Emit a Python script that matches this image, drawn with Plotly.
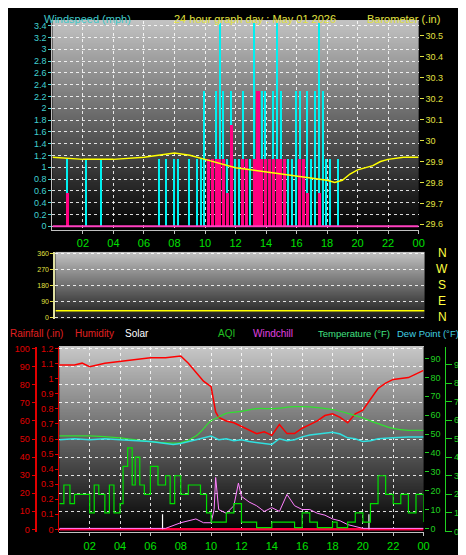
import plotly.graph_objects as go
import zlib, struct, base64

W, H = 466, 555
FONT = "Liberation Sans"

# ---------------- data ----------------
wind_hours = [i * 0.25 for i in range(97)]
gust = [0,0,0,0, 1.15,0,0,0, 0,1.15,0,0, 0,1.15,0,0, 0,0,0,0, 0,0,0,0, 0,0,0,0,
        1.15,0,1.15,0, 1.15,1.15,0,0, 1.15,0,1.15,1.15, 2.3,1.15,1.15,2.3,
        3.45,2.3,1.15,2.3, 1.15,1.15,2.3,1.15, 1.15,3.45,2.3,2.3, 2.3,1.15,2.3,3.45,
        2.3,1.15,1.15,1.15, 2.3,2.3,1.15,2.3, 1.15,2.3,3.45,2.3, 1.15,1.15,0,1.15,
        0,0,0,0, 0,0,0,0, 0,0,0,0, 0,0,0,0, 0]
speed = [0,0,0,0, 0.57,0,0,0, 0,0,0,0, 0,0,0,0, 0,0,0,0, 0,0,0,0, 0,0,0,0,
         0,0,0,0, 0,0,0,0, 0,0,0,0, 0,1.15,1.15,1.15,
         1.15,1.15,0.57,1.72, 0,0,1.15,1.15, 0,1.15,2.3,1.15, 1.15,1.15,1.15,1.15,
         1.15,1.15,0,0, 0,1.15,1.15,0.57, 0,0,0.57,0, 0,0,0,0,
         0,0,0,0, 0,0,0,0, 0,0,0,0, 0,0,0,0, 0]
baro_hours = [0, 2, 4, 6, 8, 9, 10, 10.5, 11, 12, 13, 14, 15, 16, 17, 18, 18.5, 19, 19.5, 20, 21, 21.5, 22, 23, 24]
baro = [29.92, 29.91, 29.91, 29.92, 29.94, 29.93, 29.91, 29.90, 29.89, 29.87, 29.86, 29.85,
        29.84, 29.83, 29.82, 29.81, 29.80, 29.81, 29.84, 29.86, 29.88, 29.90, 29.91, 29.92, 29.92]
dir_hours = [0, 24]
direction = [36, 36]

hum_hours = [0, 1, 1.5, 2, 3, 4, 5, 6, 7, 8, 8.5, 9, 9.5, 10, 10.3, 10.5, 11, 11.5, 12, 12.5, 13, 13.5,
             14, 14.5, 15, 15.5, 16, 16.5, 17, 17.5, 18, 18.5, 19, 19.5, 20, 20.5, 21, 21.5, 22, 23, 23.5, 24]
humidity = [91, 91, 92, 90, 92, 93, 94, 95, 95, 96, 92, 87, 82, 79, 65, 62, 60, 59, 57, 55, 53, 54,
            52, 58, 53, 53, 56, 58, 60, 63, 64, 62, 59, 64, 66, 72, 78, 81, 83, 84, 86, 88]
temp_hours = [0, 2, 4, 6, 8, 9, 10, 10.5, 11, 12, 13, 14, 15.5, 16, 17, 18, 19, 20, 21, 22, 23, 24]
temp = [49, 49, 48, 46, 45.5, 49, 57, 59, 61, 62, 63.5, 63.5, 64.5, 64.5, 64, 63, 61, 58.5, 55.5, 53, 52, 52]
dew_hours = [0, 1, 2, 3, 4, 5, 6, 7, 7.5, 8, 8.5, 9, 9.5, 10, 10.5, 11, 11.5, 12, 12.5, 13, 13.5, 14,
             14.5, 15, 15.5, 16, 16.5, 17, 17.5, 18, 18.5, 19, 19.5, 20, 20.5, 21, 22, 23, 24]
dew = [47, 47.5, 47, 47.5, 47, 46.5, 46, 45, 44.5, 45, 46, 47, 48, 49, 47, 47.5, 46.5, 47, 46, 45.5, 45, 44.5,
       47.5, 46.5, 47, 48.5, 49.5, 50, 50.5, 51, 50, 48, 47.5, 46, 46.5, 47.5, 48, 48.5, 48.5]
aqi_hours = [0, 0.3, 0.7, 1, 2, 2.3, 2.6, 3, 3.3, 3.6, 4, 4.2, 4.5, 4.8, 5, 5.3, 5.6, 6, 6.5, 7, 7.3, 7.6,
             8, 8.5, 9, 9.3, 9.7, 10, 10.5, 11, 11.5, 12, 13, 14, 15, 15.5, 16, 16.5, 17, 18, 18.3, 19,
             19.5, 20, 20.5, 21, 21.5, 22, 22.5, 23, 23.5, 24]
aqi = [15, 25, 15, 20, 10, 25, 20, 10, 25, 10, 15, 35, 45, 25, 40, 25, 20, 35, 25, 30, 15, 30,
       20, 25, 25, 20, 10, 5, 5, 10, 15, 5, 2, 5, 5, 2, 10, 5, 2, 5, 2, 5,
       10, 5, 15, 30, 20, 15, 20, 10, 20, 5]
chill_hours = [0, 7, 8, 8.5, 9, 9.5, 10, 10.2, 10.3, 10.5, 11, 11.5, 11.8, 12, 12.5, 13, 13.5, 14, 14.5,
               15, 15.5, 16, 16.5, 17, 17.5, 18, 18.5, 19, 19.5, 20, 24]
windchill = [0, 0, 3, 4, 5, 3, 3, 10, 27, 10, 8, 12, 24, 17, 14, 12, 9, 11, 9, 18, 12, 10, 10, 8, 7, 5, 4, 2, 1, 0, 0]
rain_hours = [0, 24]
rain = [0, 0]
solar_marks = [6.8, 20.4]

# ---------------- gradient image ----------------
def gradient_png(top, bot, n=256):
    raw = b""
    for i in range(n):
        v = int(top + (bot - top) * i / (n - 1))
        raw += b"\x00" + bytes([v, v])
    def chunk(t, d):
        c = struct.pack(">I", len(d)) + t + d
        return c + struct.pack(">I", zlib.crc32(t + d) & 0xffffffff)
    png = b"\x89PNG\r\n\x1a\n" + chunk(b"IHDR", struct.pack(">IIBBBBB", 2, n, 8, 0, 0, 0, 0))
    png += chunk(b"IDAT", zlib.compress(raw)) + chunk(b"IEND", b"")
    return "data:image/png;base64," + base64.b64encode(png).decode()

# ---------------- layout geometry ----------------
def fx(px): return px / W
def fy(py): return 1 - py / H

D1x, D1y = [fx(45), fx(416)], [fy(222), fy(10)]
D2x, D2y = [fx(48), fx(422)], [fy(312), fy(244)]
D3x, D3y = [fx(52), fx(421)], [fy(528), fy(340)]

fig = go.Figure()

fig.add_trace(go.Bar(x=wind_hours, y=gust, width=0.09, marker=dict(color="#00f0f0", line=dict(width=0)),
                     xaxis="x", yaxis="y"))
fig.add_trace(go.Bar(x=wind_hours, y=speed, width=0.2, marker=dict(color="#ff0080", line=dict(width=0)),
                     xaxis="x", yaxis="y"))
fig.add_trace(go.Scatter(x=[0, 24], y=[0, 0], mode="lines", line=dict(color="#ff40c0", width=2),
                         xaxis="x", yaxis="y"))
fig.add_trace(go.Scatter(x=baro_hours, y=baro, mode="lines", line=dict(color="#ffff00", width=1.5),
                         xaxis="x", yaxis="y2"))
fig.add_trace(go.Scatter(x=dir_hours, y=direction, mode="lines", line=dict(color="#ffff00", width=1.5),
                         xaxis="x2", yaxis="y3"))
fig.add_trace(go.Scatter(x=aqi_hours, y=aqi, mode="lines", line=dict(color="#00e000", width=1.2, shape="hv"),
                         xaxis="x3", yaxis="y7"))
fig.add_trace(go.Scatter(x=chill_hours, y=windchill, mode="lines", line=dict(color="#ff80ff", width=1),
                         xaxis="x3", yaxis="y6"))
fig.add_trace(go.Scatter(x=temp_hours, y=temp, mode="lines", line=dict(color="#30e030", width=1.2, shape="spline"),
                         xaxis="x3", yaxis="y6"))
fig.add_trace(go.Scatter(x=dew_hours, y=dew, mode="lines", line=dict(color="#30e0e0", width=1.5),
                         xaxis="x3", yaxis="y6"))
fig.add_trace(go.Scatter(x=hum_hours, y=humidity, mode="lines", line=dict(color="#ff0000", width=1.5),
                         xaxis="x3", yaxis="y4"))
fig.add_trace(go.Scatter(x=rain_hours, y=rain, mode="lines", line=dict(color="#ff0040", width=2.5),
                         xaxis="x3", yaxis="y5"))
for s in solar_marks:
    fig.add_trace(go.Scatter(x=[s, s], y=[0, 0.1], mode="lines", line=dict(color="white", width=1.2),
                             xaxis="x3", yaxis="y5"))

images = []
for (dx, dy), (top, bot) in zip([(D1x, D1y), (D2x, D2y), (D3x, D3y)], [(195, 0), (195, 25), (200, 0)]):
    images.append(dict(source=gradient_png(top, bot), xref="paper", yref="paper", x=dx[0], y=dy[1],
                       sizex=dx[1] - dx[0], sizey=dy[1] - dy[0], sizing="stretch", layer="below",
                       xanchor="left", yanchor="top"))

tf = dict(family=FONT, size=9)
hrs = list(range(2, 25, 2))
hlabels = [f"{h % 24:02d}" for h in hrs]
grid = dict(showgrid=True, gridcolor="rgba(255,255,255,0.85)", griddash="dot", gridwidth=1)
xcommon = dict(range=[0, 24], tickvals=hrs, ticktext=hlabels, tickfont=dict(family=FONT, size=11, color="#00e000"),
               zeroline=False, ticks="outside", ticklen=3, tickcolor="#c0c0c0", **grid)

fig.update_layout(
    width=W, height=H, margin=dict(l=0, r=0, t=0, b=0), bargap=0, barmode="overlay",
    paper_bgcolor="black", plot_bgcolor="rgba(0,0,0,0)", showlegend=False, images=images,
    xaxis=dict(domain=D1x, anchor="y", showline=True, linecolor="#c0c0c0", mirror=True, **xcommon),
    yaxis=dict(domain=D1y, range=[-0.067, 3.48], tickvals=[i * 0.2 for i in range(18)],
               ticktext=[f"{i*0.2:.1f}".rstrip("0").rstrip(".") if i else "0" for i in range(18)],
               tickfont=dict(tf, color="#40d0d0"), ticks="outside", ticklen=3, tickcolor="#40d0d0",
               zeroline=False, showline=True, linecolor="#c0c0c0", **grid),
    yaxis2=dict(overlaying="y", side="right", anchor="x", range=[29.572, 30.571],
                tickvals=[29.6, 29.7, 29.8, 29.9, 30.0, 30.1, 30.2, 30.3, 30.4, 30.5],
                ticktext=["29.6", "29.7", "29.8", "29.9", "30", "30.1", "30.2", "30.3", "30.4", "30.5"],
                tickfont=dict(tf, color="#e0e040"), ticks="outside", ticklen=4, tickcolor="#e0e040",
                showgrid=False, zeroline=False),
    xaxis2=dict(domain=D2x, anchor="y3", range=[0, 24], showticklabels=False, showgrid=False, zeroline=False),
    yaxis3=dict(domain=D2y, anchor="x2", range=[-11, 371], tickvals=[0, 90, 180, 270, 360],
                tickfont=dict(family=FONT, size=7, color="#e0e040"), ticks="outside", ticklen=3,
                tickcolor="#e0e040", showline=True, linecolor="#e0e0a0", linewidth=2, zeroline=False, **grid),
    xaxis3=dict(domain=D3x, anchor="y4", showline=True, linecolor="#c0c0c0", mirror=True, **xcommon),
    yaxis4=dict(domain=D3y, anchor="free", position=fx(28), range=[-1.64, 101.1], tickvals=list(range(0, 101, 10)),
                tickfont=dict(tf, color="#e00000"), ticks="outside", ticklen=3, tickcolor="#e00000",
                showline=True, linecolor="#e00000", linewidth=2, zeroline=False, **grid),
    yaxis5=dict(overlaying="y4", anchor="free", position=fx(51), range=[-0.0197, 1.213],
                tickvals=[i / 10 for i in range(13)],
                ticktext=["0", "0.1", "0.2", "0.3", "0.4", "0.5", "0.6", "0.7", "0.8", "0.9", "1", "1.1", "1.2"],
                tickfont=dict(tf, color="#e00000"), ticks="outside", ticklen=3, tickcolor="#e00000",
                showline=True, linecolor="#e00000", showgrid=False, zeroline=False),
    yaxis6=dict(overlaying="y4", side="right", anchor="free", position=fx(421), range=[-2.1, 96.3],
                tickvals=list(range(0, 91, 10)), tickfont=dict(tf, color="#20d020"), ticks="outside",
                ticklen=4, tickcolor="#20d020", showgrid=False, zeroline=False),
    yaxis7=dict(overlaying="y4", side="right", anchor="free", position=fx(443), range=[-0.53, 99.6],
                tickvals=list(range(0, 101, 10)), tickfont=dict(tf, color="#20d020"), ticks="outside",
                ticklen=6, tickcolor="#20d020", showline=True, linecolor="#20d020", showgrid=False, zeroline=False),
)

def ann(text, x, y, color, size=10, xanchor="left"):
    fig.add_annotation(text=text, x=fx(x), y=fy(y), xref="paper", yref="paper", showarrow=False,
                       xanchor=xanchor, yanchor="middle", font=dict(family=FONT, size=size, color=color))

ann("Windspeed (mph)", 34, 8, "#40c8c8", size=11)
ann("24 hour graph day : May 01 2026", 250, 8, "#e0e040", size=11, xanchor="center")
ann("Barometer (.in)", 440, 8, "#e0e040", size=11, xanchor="right")
for lbl, yy in zip(["N", "W", "S", "E", "N"], [245, 261, 278, 294, 310]):
    ann(lbl, 440, yy, "#ffff40", size=12, xanchor="center")
ann("Rainfall (.in)", 0, 327, "#e02020")
ann("Humidity", 66, 327, "#e02020")
ann("Solar", 117, 327, "white")
ann("AQI", 211, 327, "#20c020")
ann("Windchill", 246, 327, "#e040e0")
ann("Temperature (°F)", 312, 327, "#40e080", size=9.5)
ann("Dew Point (°F)", 392, 327, "#40d0e0", size=9.5)

fig.write_html("out.html")
